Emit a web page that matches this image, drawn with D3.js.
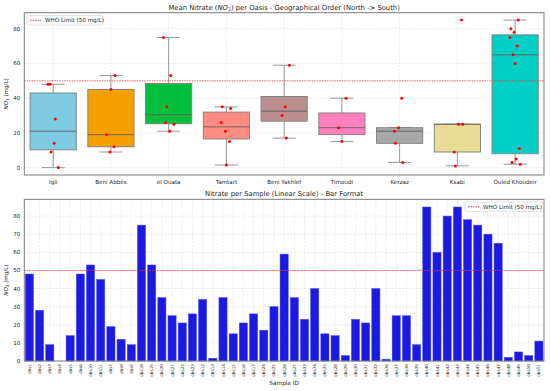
<!DOCTYPE html>
<html>
<head>
<meta charset="utf-8">
<script src="https://cdn.jsdelivr.net/npm/d3@7"></script>
<style>
  body { margin: 0; background: #fff; }
  svg { font-family: "DejaVu Sans", sans-serif; }
</style>
</head>
<body>
<div id="chart"></div>
<script>
var W = 550, H = 391;

// oases in geographical order (north -> south)
var oases = ["Igli", "Beni Abbès", "el Ouata", "Tamtart", "Beni Yakhlef", "Timoudi", "Kerzaz", "Ksabi", "Ouled Khoudeir"];
var oasisColors = ["#7ecbe3", "#f59f00", "#00bf3c", "#ff8c80", "#bc8f8f", "#ff7fbf", "#a8a8a8", "#e8dc96", "#00cfc5"];

// samples, in the order they are plotted
var sampleIds = ["obs1", "obs2", "obs3", "obs4", "obs5", "obs6", "obs10", "obs11", "obs7", "obs8", "obs9",
  "obs18", "obs19", "obs20", "obs21", "obs22", "obs23", "obs12", "obs13", "obs14", "obs15", "obs16", "obs17",
  "obs24", "obs25", "obs26", "obs27", "obs33", "obs34", "obs35", "obs28", "obs29", "obs30", "obs31", "obs32",
  "obs36", "obs37", "obs38", "obs39", "obs40", "obs41", "obs42", "obs43", "obs44", "obs45", "obs46", "obs47",
  "obs48", "obs49", "obs50", "obs51"];
var sampleValues = [48, 28, 9, 0, 14, 48, 53, 45, 19, 12, 9,
  75, 53, 35, 25, 21, 26, 34, 1.5, 35, 15, 21, 26,
  17, 30, 59, 35, 23, 40, 15, 14, 3, 23, 21, 40,
  1, 25, 25, 9, 85, 60, 80, 85, 78, 75, 70, 65,
  2, 5, 3, 11];
var sampleOasis = ["Igli", "Igli", "Igli", "Igli", "Igli", "Igli",
  "Beni Abbès", "Beni Abbès", "Beni Abbès", "Beni Abbès", "Beni Abbès",
  "el Ouata", "el Ouata", "el Ouata", "el Ouata", "el Ouata", "el Ouata",
  "Tamtart", "Tamtart", "Tamtart", "Tamtart", "Tamtart", "Tamtart",
  "Beni Yakhlef", "Beni Yakhlef", "Beni Yakhlef", "Beni Yakhlef",
  "Timoudi", "Timoudi", "Timoudi",
  "Kerzaz", "Kerzaz", "Kerzaz", "Kerzaz", "Kerzaz",
  "Ksabi", "Ksabi", "Ksabi", "Ksabi", "Ksabi",
  "Ouled Khoudeir", "Ouled Khoudeir", "Ouled Khoudeir", "Ouled Khoudeir", "Ouled Khoudeir", "Ouled Khoudeir",
  "Ouled Khoudeir", "Ouled Khoudeir", "Ouled Khoudeir", "Ouled Khoudeir", "Ouled Khoudeir"];

var whoLimit = 50;
var topTicks = [0, 20, 40, 60, 80];
var bottomTicks = [0, 10, 20, 30, 40, 50, 60, 70, 80];

var svg = d3.select("#chart").append("svg").attr("width", W).attr("height", H);

var L = 24.3, R = 544;
var frameColor = "#7a7a7a", gridColor = "#dedede", textColor = "#262626";

// y label with NO3 subscript
function yLabel(g, x, y) {
  var t = g.append("text")
    .attr("transform", "translate(" + x + "," + y + ") rotate(-90)")
    .attr("text-anchor", "middle")
    .attr("font-size", 5.6)
    .attr("fill", textColor);
  t.append("tspan").attr("font-style", "italic").text("NO");
  t.append("tspan").attr("font-size", 4).attr("dy", 1.2).text("3");
  t.append("tspan").attr("dy", -1.2).text(" (mg/L)");
}

function legend(g, x, y, w) {
  g.append("rect").attr("x", x).attr("y", y).attr("width", w).attr("height", 9.5)
    .attr("rx", 1.5).attr("fill", "#fff").attr("fill-opacity", 0.85)
    .attr("stroke", "#d6d6d6").attr("stroke-width", 0.7);
  g.append("line").attr("x1", x + 3).attr("x2", x + 14).attr("y1", y + 4.8).attr("y2", y + 4.8)
    .attr("stroke", "#ff2020").attr("stroke-width", 0.9).attr("stroke-dasharray", "1.5,1");
  g.append("text").attr("x", x + 18).attr("y", y + 6.8).attr("font-size", 5.6).attr("fill", textColor)
    .text("WHO Limit (50 mg/L)");
}

// ---------------- top panel: box plots ----------------
var T1 = 12.7, B1 = 175;
var x1 = d3.scalePoint().domain(oases).range([L, R]).padding(0.5);
var step1 = x1.step();
var y1 = d3.scaleLinear().domain([-4.25, 89.25]).range([B1, T1]);

var g1 = svg.append("g");

// grid
g1.selectAll(".hg").data(topTicks).enter().append("line")
  .attr("x1", L).attr("x2", R).attr("y1", d => y1(d)).attr("y2", d => y1(d))
  .attr("stroke", gridColor).attr("stroke-width", 0.6).attr("stroke-dasharray", "2,1.5");
g1.selectAll(".vg").data(oases).enter().append("line")
  .attr("x1", d => x1(d)).attr("x2", d => x1(d)).attr("y1", T1).attr("y2", B1)
  .attr("stroke", gridColor).attr("stroke-width", 0.6).attr("stroke-dasharray", "2,1.5");

var stats = oases.map(function (o, i) {
  var v = sampleValues.filter((d, j) => sampleOasis[j] === o).sort(d3.ascending);
  var q1 = d3.quantile(v, 0.25), med = d3.quantile(v, 0.5), q3 = d3.quantile(v, 0.75);
  var iqr = q3 - q1;
  var lo = d3.min(v.filter(d => d >= q1 - 1.5 * iqr));
  var hi = d3.max(v.filter(d => d <= q3 + 1.5 * iqr));
  return { name: o, color: oasisColors[i], q1: q1, med: med, q3: q3, lo: lo, hi: hi };
});

var bw = step1 * 0.8;
var boxes = g1.selectAll(".box").data(stats).enter().append("g");
boxes.append("line").attr("x1", d => x1(d.name)).attr("x2", d => x1(d.name))
  .attr("y1", d => y1(d.lo)).attr("y2", d => y1(d.q1)).attr("stroke", "#8c8c8c").attr("stroke-width", 0.9);
boxes.append("line").attr("x1", d => x1(d.name)).attr("x2", d => x1(d.name))
  .attr("y1", d => y1(d.q3)).attr("y2", d => y1(d.hi)).attr("stroke", "#8c8c8c").attr("stroke-width", 0.9);
boxes.append("line").attr("x1", d => x1(d.name) - bw / 4).attr("x2", d => x1(d.name) + bw / 4)
  .attr("y1", d => y1(d.lo)).attr("y2", d => y1(d.lo)).attr("stroke", "#8c8c8c").attr("stroke-width", 0.9);
boxes.append("line").attr("x1", d => x1(d.name) - bw / 4).attr("x2", d => x1(d.name) + bw / 4)
  .attr("y1", d => y1(d.hi)).attr("y2", d => y1(d.hi)).attr("stroke", "#8c8c8c").attr("stroke-width", 0.9);
boxes.append("rect")
  .attr("x", d => x1(d.name) - bw / 2).attr("width", bw)
  .attr("y", d => y1(d.q3)).attr("height", d => y1(d.q1) - y1(d.q3))
  .attr("fill", d => d.color).attr("stroke", "#7d7d7d").attr("stroke-width", 0.9);
boxes.append("line").attr("x1", d => x1(d.name) - bw / 2).attr("x2", d => x1(d.name) + bw / 2)
  .attr("y1", d => y1(d.med)).attr("y2", d => y1(d.med)).attr("stroke", "#5f5f5f").attr("stroke-width", 0.9);

// WHO limit
g1.append("line").attr("x1", L).attr("x2", R).attr("y1", y1(whoLimit)).attr("y2", y1(whoLimit))
  .attr("stroke", "#ff3030").attr("stroke-width", 0.8).attr("stroke-dasharray", "1.5,1");

// jittered sample points
g1.selectAll(".pt").data(sampleValues).enter().append("circle")
  .attr("cx", function (d, i) {
    var j = ((i * 7) % 11 - 5) / 5;
    return x1(sampleOasis[i]) + j * step1 * 0.09;
  })
  .attr("cy", d => y1(d)).attr("r", 1.5).attr("fill", "#ff0000");

// frame + ticks
g1.append("rect").attr("x", L).attr("y", T1).attr("width", R - L).attr("height", B1 - T1)
  .attr("fill", "none").attr("stroke", frameColor).attr("stroke-width", 1);
g1.selectAll(".yt").data(topTicks).enter().append("text")
  .attr("x", L - 4).attr("y", d => y1(d) + 2).attr("text-anchor", "end")
  .attr("font-size", 5.6).attr("fill", textColor).text(d => d);
g1.selectAll(".xt").data(oases).enter().append("text")
  .attr("x", d => x1(d)).attr("y", B1 + 8.5).attr("text-anchor", "middle")
  .attr("font-size", 5.6).attr("fill", textColor).text(d => d);
var tt = g1.append("text").attr("x", (L + R) / 2).attr("y", 9.5).attr("text-anchor", "middle")
  .attr("font-size", 6.8).attr("fill", textColor);
tt.append("tspan").text("Mean Nitrate (");
tt.append("tspan").attr("font-style", "italic").text("NO");
tt.append("tspan").attr("font-size", 4.8).attr("dy", 1.4).text("3");
tt.append("tspan").attr("dy", -1.4).text(") per Oasis - Geographical Order (North -> South)");
yLabel(g1, 8, (T1 + B1) / 2);
legend(g1, 27, 15.5, 76);

// ---------------- bottom panel: bars ----------------
var T2 = 199.3, B2 = 361;
var x2 = d3.scaleBand().domain(sampleIds).range([L, R]).paddingInner(0.2).paddingOuter(0.1);
var y2 = d3.scaleLinear().domain([0, 89.25]).range([B2, T2]);
var g2 = svg.append("g");

g2.selectAll(".hg").data(bottomTicks).enter().append("line")
  .attr("x1", L).attr("x2", R).attr("y1", d => y2(d)).attr("y2", d => y2(d))
  .attr("stroke", gridColor).attr("stroke-width", 0.6).attr("stroke-dasharray", "2,1.5");
g2.selectAll(".vg").data(sampleIds).enter().append("line")
  .attr("x1", d => x2(d) + x2.bandwidth() / 2).attr("x2", d => x2(d) + x2.bandwidth() / 2)
  .attr("y1", T2).attr("y2", B2)
  .attr("stroke", gridColor).attr("stroke-width", 0.6).attr("stroke-dasharray", "2,1.5");

g2.selectAll(".bar").data(sampleValues).enter().append("rect")
  .attr("x", (d, i) => x2(sampleIds[i])).attr("width", x2.bandwidth())
  .attr("y", d => y2(d)).attr("height", d => B2 - y2(d))
  .attr("fill", "#1a1ae2").attr("stroke", "#4a4af0").attr("stroke-width", 0.5);

g2.append("line").attr("x1", L).attr("x2", R).attr("y1", y2(whoLimit)).attr("y2", y2(whoLimit))
  .attr("stroke", "#ff3030").attr("stroke-width", 0.8).attr("stroke-dasharray", "1.5,1");

g2.append("rect").attr("x", L).attr("y", T2).attr("width", R - L).attr("height", B2 - T2)
  .attr("fill", "none").attr("stroke", frameColor).attr("stroke-width", 1);
g2.selectAll(".yt").data(bottomTicks).enter().append("text")
  .attr("x", L - 4).attr("y", d => y2(d) + 2).attr("text-anchor", "end")
  .attr("font-size", 5.6).attr("fill", textColor).text(d => d);
g2.selectAll(".xt").data(sampleIds).enter().append("text")
  .attr("transform", d => "translate(" + (x2(d) + x2.bandwidth() / 2 + 1.5) + "," + (B2 + 3) + ") rotate(-90)")
  .attr("text-anchor", "end").attr("font-size", 4.2).attr("fill", textColor).text(d => d);
g2.append("text").attr("x", (L + R) / 2).attr("y", 385).attr("text-anchor", "middle")
  .attr("font-size", 5.8).attr("fill", textColor).text("Sample ID");
g2.append("text").attr("x", (L + R) / 2).attr("y", 195.5).attr("text-anchor", "middle")
  .attr("font-size", 6.8).attr("fill", textColor).text("Nitrate per Sample (Linear Scale) - Bar Format");
yLabel(g2, 8, (T2 + B2) / 2);
legend(g2, 465, 202, 78);
</script>
</body>
</html>
